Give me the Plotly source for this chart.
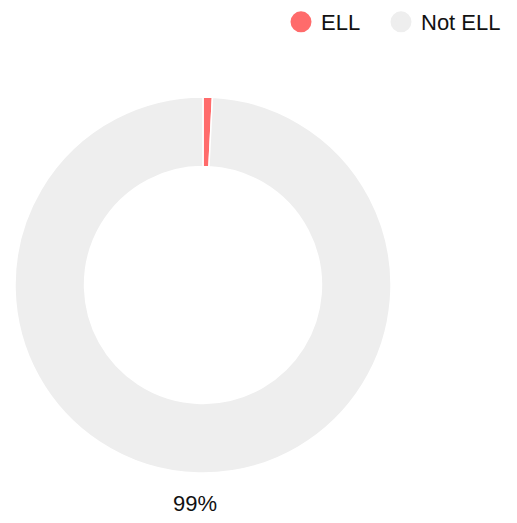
import plotly.graph_objects as go

categories = ["ELL", "Not ELL"]
values = [0.8, 99.2]
colors = ["#FF6B6B", "#EEEEEE"]

pct_label = f"{round(values[1] / sum(values) * 100)}%"

W, H = 517, 523
OFF = 8  # page body margin

fig = go.Figure()
fig.add_trace(go.Pie(
    labels=categories,
    values=values,
    hole=0.63,
    sort=False,
    direction="clockwise",
    rotation=0,
    marker=dict(colors=colors, line=dict(color="white", width=1.5)),
    textinfo="none",
    showlegend=False,
    hoverinfo="label+percent",
    domain=dict(x=[(15 - OFF) / W, (391 - OFF) / W],
                y=[(H - 473 + OFF) / H, (H - 97 + OFF) / H]),
))
legend_ids = ["legend", "legend2"]
for name, c, lg in zip(categories, colors, legend_ids):
    fig.add_trace(go.Scatter(
        x=[None], y=[None], mode="markers", name=name, legend=lg,
        marker=dict(symbol="circle", size=16, color=c, line=dict(color=c, width=5)),
    ))

fig.add_annotation(
    text=pct_label, xref="paper", yref="paper",
    x=(195 - OFF) / W, y=1 - (503 - OFF) / H, xanchor="center", yanchor="middle",
    showarrow=False, font=dict(size=22, color="#111111"),
)

leg_common = dict(orientation="h", xanchor="left", yanchor="middle",
                  y=1 - (22 - OFF) / H, font=dict(size=22), itemwidth=30,
                  bgcolor="rgba(0,0,0,0)")
fig.update_layout(
    width=W, height=H,
    margin=dict(l=0, r=0, t=0, b=0, autoexpand=False),
    paper_bgcolor="white", plot_bgcolor="white",
    font=dict(family="Liberation Sans, Arial, sans-serif", size=22, color="#111111"),
    xaxis=dict(visible=False), yaxis=dict(visible=False),
    legend=dict(x=(281 - OFF) / W, **leg_common),
    legend2=dict(x=(381 - OFF) / W, **leg_common),
)
fig.write_html("out.html", config={"displayModeBar": False})
